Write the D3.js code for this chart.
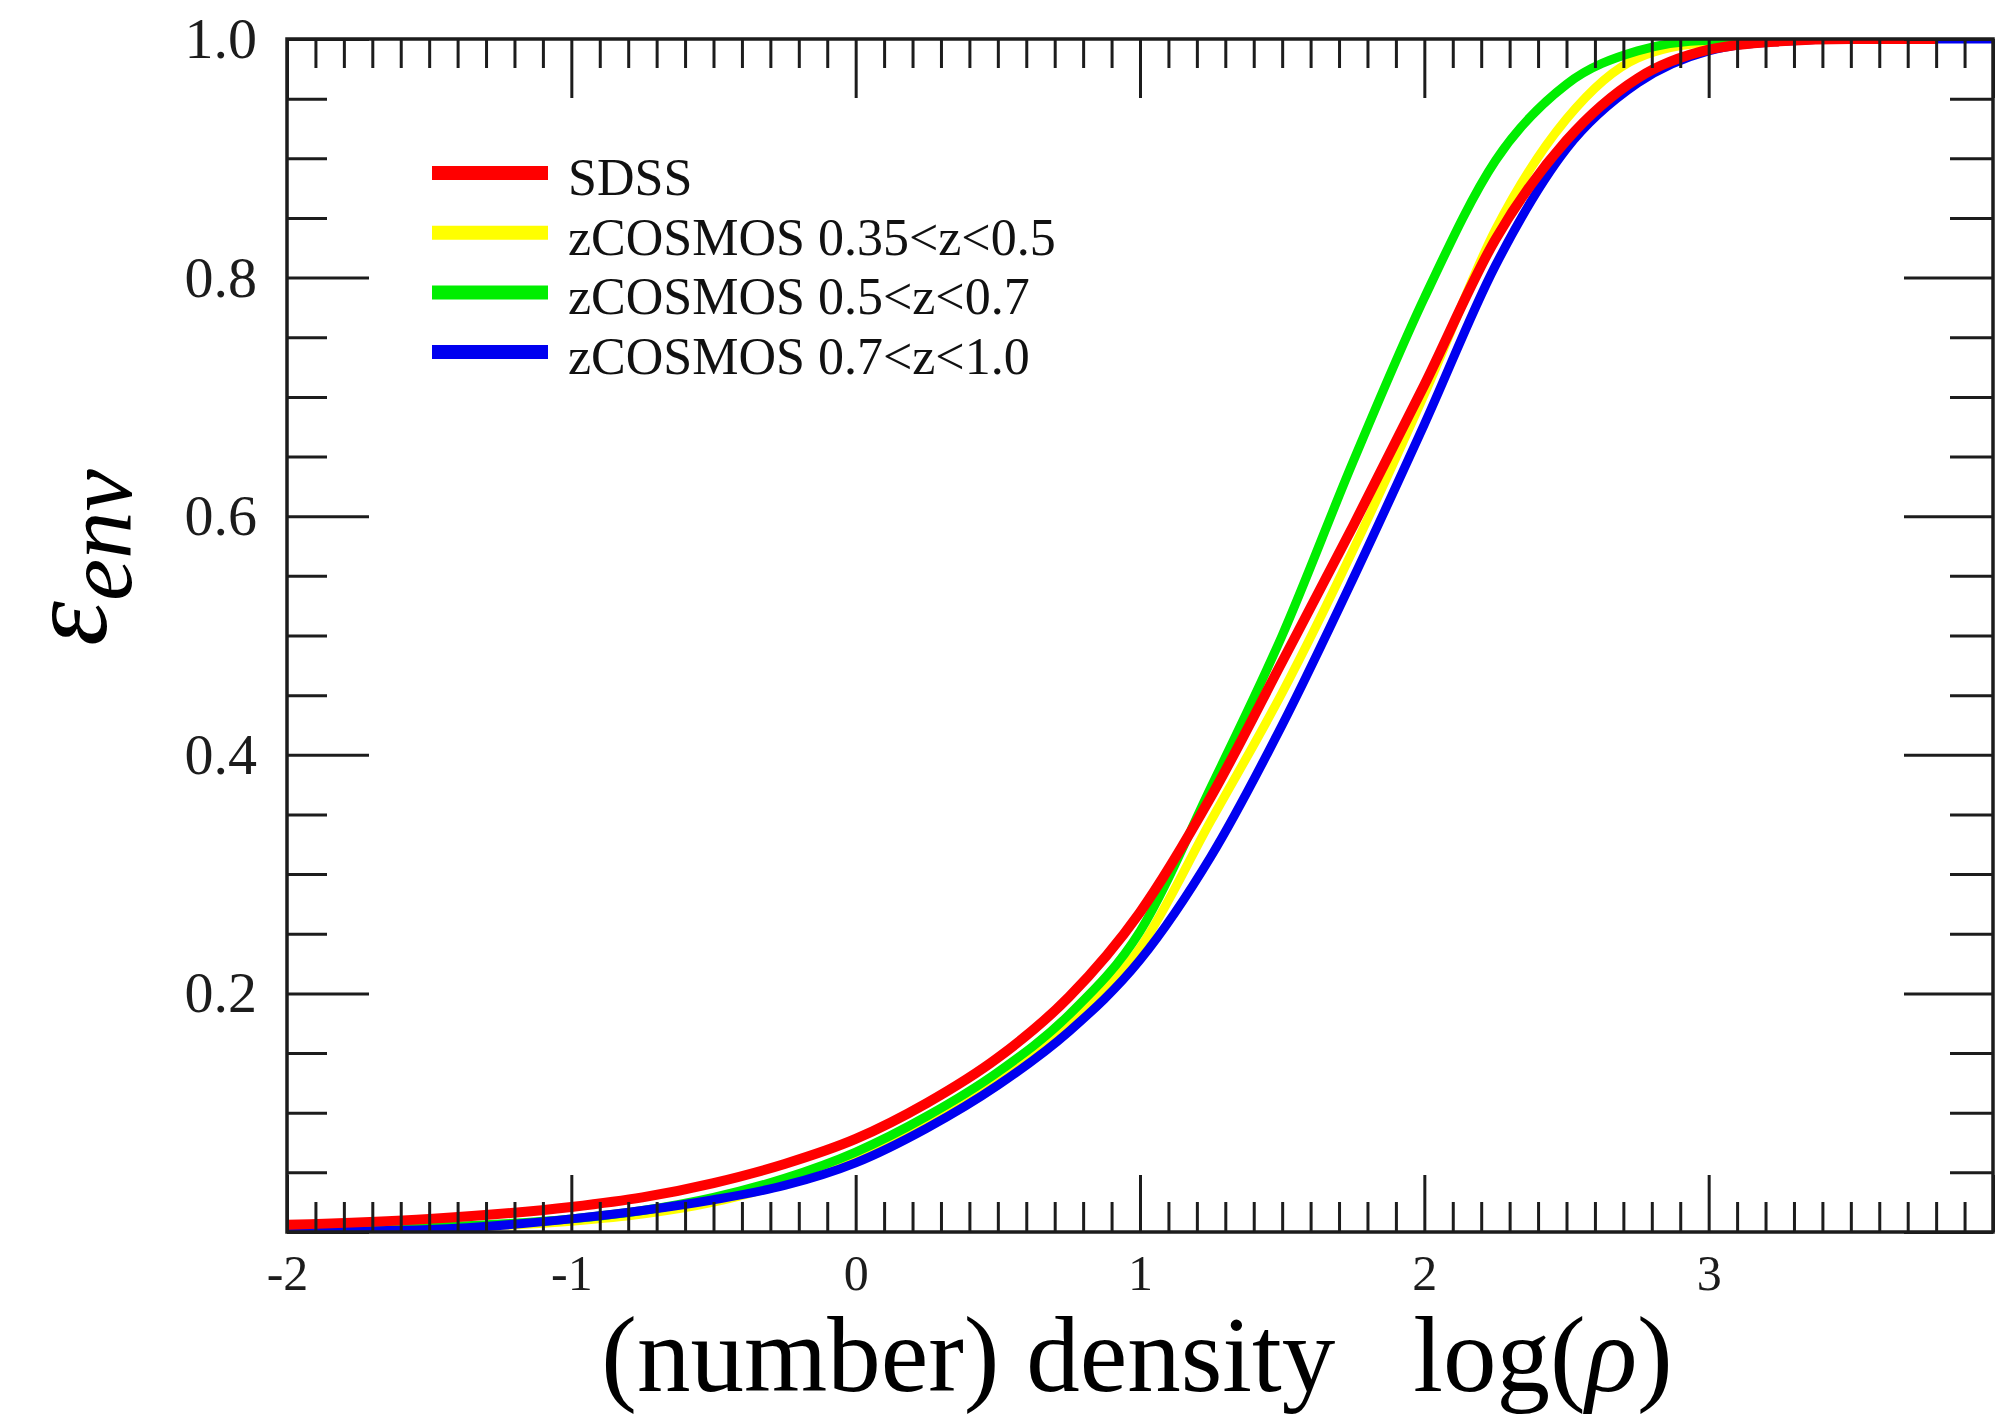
<!DOCTYPE html>
<html>
<head>
<meta charset="utf-8">
<script src="https://cdn.jsdelivr.net/npm/d3@7"></script>
<style>
  html, body { margin: 0; padding: 0; background: #fff; }
  svg { display: block; }
</style>
</head>
<body>
<svg id="chart" width="2012" height="1418"></svg>
<script>
// ---------------- data ----------------
const seriesNames = ["SDSS", "zCOSMOS 0.35<z<0.5", "zCOSMOS 0.5<z<0.7", "zCOSMOS 0.7<z<1.0"];
const seriesColors = ["#ff0000", "#ffff00", "#00ee00", "#0000f0"];

const sdssX  = [-2, -1.5, -1, -0.75, -0.5, -0.25, 0, 0.25, 0.5, 0.75, 1, 1.25, 1.5, 1.75, 2, 2.25, 2.5, 2.75, 3, 3.25, 3.5, 3.8];
const sdssY  = [0.006, 0.011, 0.021, 0.029, 0.041, 0.057, 0.078, 0.108, 0.146, 0.197, 0.268, 0.365, 0.478, 0.592, 0.71, 0.832, 0.915, 0.967, 0.991, 0.998, 1.0, 1.0];

const z035X  = [-2, -1.5, -1, -0.75, -0.5, -0.25, 0, 0.25, 0.5, 0.75, 1, 1.25, 1.5, 1.75, 2, 2.25, 2.5, 2.75, 3, 3.4];
const z035Y  = [0.0, 0.003, 0.009, 0.015, 0.025, 0.041, 0.062, 0.09, 0.128, 0.176, 0.238, 0.345, 0.452, 0.572, 0.702, 0.84, 0.933, 0.984, 0.997, 1.0];

const z05X   = [-2, -1.5, -1, -0.75, -0.5, -0.25, 0, 0.25, 0.5, 0.75, 1, 1.25, 1.5, 1.75, 2, 2.25, 2.5, 2.75, 3, 3.4];
const z05Y   = [0.001, 0.004, 0.011, 0.018, 0.029, 0.045, 0.067, 0.097, 0.134, 0.182, 0.252, 0.373, 0.5, 0.646, 0.783, 0.898, 0.962, 0.99, 0.999, 1.0];

const z07X   = [-2, -1.5, -1, -0.75, -0.5, -0.25, 0, 0.25, 0.5, 0.75, 1, 1.25, 1.5, 1.75, 2, 2.25, 2.5, 2.75, 3, 3.25, 3.5, 4.0];
const z07Y   = [0.0, 0.002, 0.011, 0.018, 0.027, 0.039, 0.058, 0.087, 0.123, 0.168, 0.228, 0.315, 0.425, 0.548, 0.677, 0.81, 0.908, 0.963, 0.99, 0.998, 1.0, 1.0];

const xTickValues = [-2, -1, 0, 1, 2, 3];
const xTickLabels = ["-2", "-1", "0", "1", "2", "3"];
const yTickValues = [0.2, 0.4, 0.6, 0.8, 1.0];
const yTickLabels = ["0.2", "0.4", "0.6", "0.8", "1.0"];

const xDomain = [-2, 4];
const yDomain = [0, 1];

// ---------------- layout ----------------
const plot = { left: 287, right: 1993, top: 39, bottom: 1232 };
const serif = "'Liberation Serif', 'Times New Roman', Times, serif";
const ink = "#1c1c1c";

const svg = d3.select("#chart");
const x = d3.scaleLinear().domain(xDomain).range([plot.left, plot.right]);
const y = d3.scaleLinear().domain(yDomain).range([plot.bottom, plot.top]);

// minor tick positions
const isMult = (v, s) => Math.abs(v / s - Math.round(v / s)) < 1e-6;
const xMinor = d3.range(0, 61).map(i => -2 + i * 0.1).filter(v => !isMult(v, 1));
const xMajor = d3.range(-2, 4.5, 1);
const yMinor = d3.range(0, 21).map(i => i * 0.05).filter(v => !isMult(v, 0.2));
const yMajor = [0, 0.2, 0.4, 0.6, 0.8, 1.0];

// ---------------- curves ----------------
const defs = svg.append("defs");
defs.append("clipPath").attr("id", "plotclip")
  .append("rect")
  .attr("x", plot.left).attr("y", plot.top)
  .attr("width", plot.right - plot.left).attr("height", plot.bottom - plot.top);

const series = [
  { name: seriesNames[1], color: seriesColors[1], xs: z035X, ys: z035Y, w: 9 },
  { name: seriesNames[2], color: seriesColors[2], xs: z05X,  ys: z05Y,  w: 9 },
  { name: seriesNames[3], color: seriesColors[3], xs: z07X,  ys: z07Y,  w: 9 },
  { name: seriesNames[0], color: seriesColors[0], xs: sdssX, ys: sdssY, w: 10 }
];

const line = d3.line()
  .x(d => x(d[0]))
  .y(d => y(d[1]))
  .curve(d3.curveMonotoneX);

const gLines = svg.append("g").attr("clip-path", "url(#plotclip)");
series.forEach(s => {
  const pts = s.xs.map((v, i) => [v, s.ys[i]]);
  gLines.append("path")
    .datum(pts)
    .attr("d", line)
    .attr("fill", "none")
    .attr("stroke", s.color)
    .attr("stroke-width", s.w)
    .attr("stroke-linejoin", "round")
    .attr("stroke-linecap", "butt");
});

// ---------------- axes ----------------
function styleAxis(g) {
  g.select(".domain").remove();
  g.selectAll(".tick line").attr("stroke", ink).attr("stroke-width", 3);
  g.selectAll(".tick text")
    .attr("fill", ink)
    .style("font-family", serif);
}

// bottom
const gb1 = svg.append("g").attr("transform", `translate(0,${plot.bottom})`)
  .call(d3.axisBottom(x).tickValues(xMinor).tickSize(-30).tickFormat(""));
styleAxis(gb1);
const gb2 = svg.append("g").attr("transform", `translate(0,${plot.bottom})`)
  .call(d3.axisBottom(x).tickValues(xMajor).tickSize(-57).tickPadding(22)
    .tickFormat(d => { const i = xTickValues.indexOf(d); return i >= 0 ? xTickLabels[i] : ""; }));
styleAxis(gb2);
gb2.selectAll(".tick text").style("font-size", "50px");

// top
const gt1 = svg.append("g").attr("transform", `translate(0,${plot.top})`)
  .call(d3.axisTop(x).tickValues(xMinor).tickSize(-29).tickFormat(""));
styleAxis(gt1);
const gt2 = svg.append("g").attr("transform", `translate(0,${plot.top})`)
  .call(d3.axisTop(x).tickValues(xMajor).tickSize(-59).tickFormat(""));
styleAxis(gt2);

// left
const gl1 = svg.append("g").attr("transform", `translate(${plot.left},0)`)
  .call(d3.axisLeft(y).tickValues(yMinor).tickSize(-40).tickFormat(""));
styleAxis(gl1);
const gl2 = svg.append("g").attr("transform", `translate(${plot.left},0)`)
  .call(d3.axisLeft(y).tickValues(yMajor).tickSize(-82).tickPadding(30)
    .tickFormat(d => { const i = yTickValues.findIndex(v => Math.abs(v - d) < 1e-9); return i >= 0 ? yTickLabels[i] : ""; }));
styleAxis(gl2);
gl2.selectAll(".tick text").style("font-size", "58px");

// right
const gr1 = svg.append("g").attr("transform", `translate(${plot.right},0)`)
  .call(d3.axisRight(y).tickValues(yMinor).tickSize(-43).tickFormat(""));
styleAxis(gr1);
const gr2 = svg.append("g").attr("transform", `translate(${plot.right},0)`)
  .call(d3.axisRight(y).tickValues(yMajor).tickSize(-89).tickFormat(""));
styleAxis(gr2);

// frame
svg.append("rect")
  .attr("x", plot.left).attr("y", plot.top)
  .attr("width", plot.right - plot.left).attr("height", plot.bottom - plot.top)
  .attr("fill", "none").attr("stroke", ink).attr("stroke-width", 3.5);

// ---------------- legend ----------------
const legendOrder = [0, 1, 2, 3];
const legend = svg.append("g");
legendOrder.forEach((k, i) => {
  const ly = 173 + i * 59.7;
  legend.append("line")
    .attr("x1", 432).attr("x2", 548)
    .attr("y1", ly).attr("y2", ly)
    .attr("stroke", seriesColors[k]).attr("stroke-width", 14);
  legend.append("text")
    .attr("x", 568).attr("y", ly + 22)
    .style("font-family", serif).style("font-size", "52px")
    .attr("fill", "#111")
    .text(seriesNames[k]);
});

// ---------------- axis titles ----------------
const xt = svg.append("text")
  .attr("x", 1137).attr("y", 1391)
  .attr("text-anchor", "middle")
  .style("font-family", serif).style("font-size", "107px")
  .attr("fill", "#000");
xt.append("tspan").text("(number) density");
xt.append("tspan").attr("dx", 78).text("log(");
xt.append("tspan").style("font-style", "italic").text("ρ");
xt.append("tspan").text(")");

const yt = svg.append("text")
  .attr("transform", "translate(106,646) rotate(-90)")
  .style("font-family", serif).style("font-style", "italic")
  .attr("fill", "#000");
yt.append("tspan").style("font-size", "114px").text("ε");
yt.append("tspan").attr("dy", 25).style("font-size", "95px").text("env");
</script>
</body>
</html>
